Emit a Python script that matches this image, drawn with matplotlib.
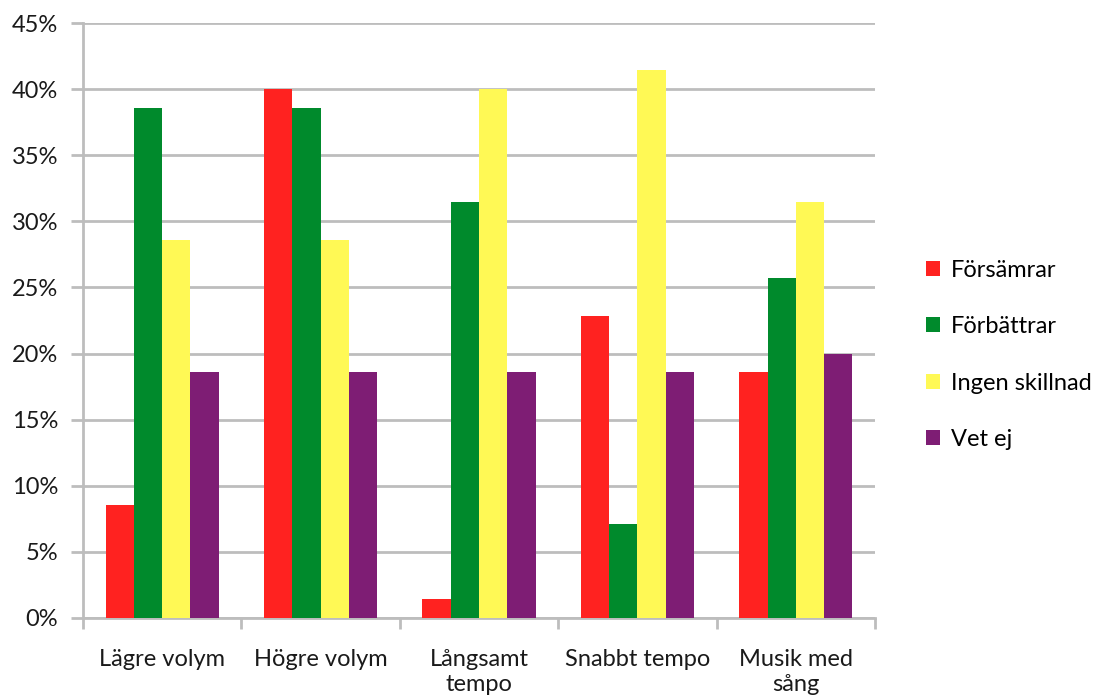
import matplotlib
matplotlib.use("Agg")
import matplotlib.pyplot as plt
import numpy as np
from matplotlib.ticker import PercentFormatter, FixedLocator

categories = ["Lägre volym", "Högre volym", "Långsamt\ntempo", "Snabbt tempo", "Musik med\nsång"]
series_names = ["Försämrar", "Förbättrar", "Ingen skillnad", "Vet ej"]
forsamrar = [8.57, 40.0, 1.43, 22.86, 18.57]
forbattrar = [38.57, 38.57, 31.43, 7.14, 25.71]
ingen_skillnad = [28.57, 28.57, 40.0, 41.43, 31.43]
vet_ej = [18.57, 18.57, 18.57, 18.57, 20.0]
colors = ["#FF2220", "#008A2C", "#FFF955", "#7E1D74"]

plt.rcParams['font.family'] = ['Lato', 'DejaVu Sans']
FS = 17

fig = plt.figure(figsize=(10.97, 6.97), dpi=100)
ax = fig.add_axes([83 / 1097, 1 - 618 / 697, (875 - 83) / 1097, (618 - 23) / 697])

series = [forsamrar, forbattrar, ingen_skillnad, vet_ej]
n = len(series)
gap = 1.6
w = 1.0 / (n + gap)
x = np.arange(len(categories))
for i, (vals, name, c) in enumerate(zip(series, series_names, colors)):
    ax.bar(x - 0.5 + gap * w / 2 + (i + 0.5) * w, vals, width=w, color=c,
           label=name, zorder=3, linewidth=0)

ax.set_xlim(-0.5, len(categories) - 0.5)
ax.set_ylim(0, 45)
ax.set_yticks(np.arange(0, 46, 5))
ax.yaxis.set_major_formatter(PercentFormatter(decimals=0))
ax.grid(axis='y', color='#BDBDBD', linewidth=2, zorder=0)
ax.set_xticks(x)
ax.set_xticklabels(categories, fontsize=FS, color='#1a1a1a', linespacing=1.25)
ax.xaxis.set_minor_locator(FixedLocator(np.arange(-0.5, len(categories), 1)))
ax.tick_params(axis='x', which='major', length=0, pad=22)
ax.tick_params(axis='x', which='minor', length=8, width=2, color='#BDBDBD')
ax.tick_params(axis='y', length=9, width=2, color='#BDBDBD', labelsize=FS,
               labelcolor='#1a1a1a', pad=9)
for s in ['top', 'right']:
    ax.spines[s].set_visible(False)
for s in ['left', 'bottom']:
    ax.spines[s].set_color('#BDBDBD')
    ax.spines[s].set_linewidth(2)

leg = fig.legend(loc='center left', bbox_to_anchor=(926 / 1097, 1 - 355 / 697),
                 frameon=False, fontsize=FS, handlelength=0.6, handleheight=0.6,
                 handletextpad=0.45, labelspacing=1.5, borderpad=0, borderaxespad=0)

fig.savefig("out.png", dpi=100)
